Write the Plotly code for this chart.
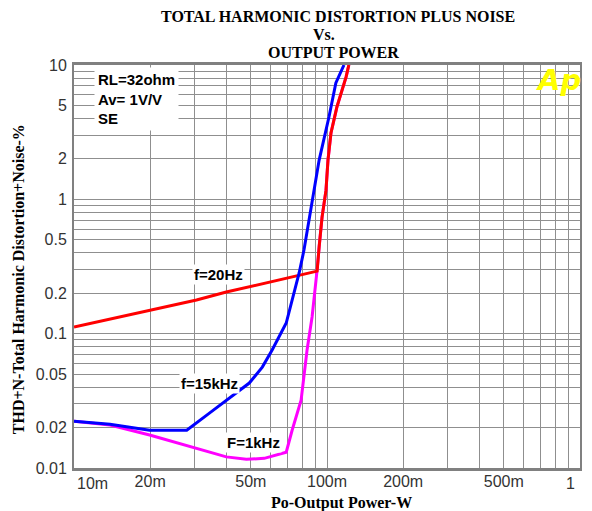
import plotly.graph_objects as go

# ---- data ----
power_20hz = [0.01, 0.0199, 0.0305, 0.040, 0.0525, 0.0665, 0.0776, 0.0914, 0.0931,
              0.0956, 0.0991, 0.1009, 0.1037, 0.1094, 0.119, 0.122]
thd_20hz = [0.112, 0.150, 0.178, 0.204, 0.230, 0.255, 0.273, 0.292, 0.442,
            0.738, 1.17, 1.96, 3.12, 4.86, 8.15, 10]

power_15khz = [0.01, 0.01387, 0.0199, 0.0279, 0.0343, 0.0438, 0.0493, 0.0555, 0.0607,
               0.069, 0.0728, 0.0776, 0.0811, 0.0873, 0.0931, 0.1018, 0.1084, 0.1167]
thd_15khz = [0.0223, 0.0212, 0.0191, 0.0191, 0.0256, 0.0361, 0.0429, 0.0564, 0.0755,
             0.120, 0.178, 0.283, 0.419, 0.988, 1.96, 4.10, 7.35, 10]

power_1khz = [0.01, 0.01387, 0.0199, 0.0294, 0.040, 0.048, 0.0565, 0.069, 0.0728, 0.079,
              0.0811, 0.0834, 0.0873, 0.0905, 0.0914, 0.0931, 0.0956, 0.0991, 0.1009,
              0.1037, 0.1094, 0.119, 0.122]
thd_1khz = [0.0223, 0.0209, 0.0176, 0.0143, 0.0121, 0.0116, 0.0118, 0.0131, 0.0191, 0.032,
            0.0475, 0.0755, 0.133, 0.238, 0.298, 0.442, 0.738, 1.17, 1.96,
            3.12, 4.86, 8.15, 10]

x_grid = [0.01, 0.02, 0.03, 0.04, 0.05, 0.06, 0.07, 0.08, 0.09,
          0.1, 0.2, 0.3, 0.4, 0.5, 0.6, 0.7, 0.8, 0.9, 1]
x_labels = {0.01: "10m", 0.02: "20m", 0.05: "50m", 0.1: "100m",
            0.2: "200m", 0.5: "500m", 1: "1"}
x_edge_labels = [0.01, 1]   # drawn flush with the plot edges, as in the reference
y_grid = [0.01, 0.02, 0.03, 0.04, 0.05, 0.06, 0.07, 0.08, 0.09,
          0.1, 0.2, 0.3, 0.4, 0.5, 0.6, 0.7, 0.8, 0.9,
          1, 2, 3, 4, 5, 6, 7, 8, 9, 10]
y_labels = {0.01: "0.01", 0.02: "0.02", 0.05: "0.05", 0.1: "0.1", 0.2: "0.2",
            0.5: "0.5", 1: "1", 2: "2", 5: "5", 10: "10"}

x_text = ["" if v in x_edge_labels else x_labels.get(v, "") for v in x_grid]
y_text = [y_labels.get(v, "") for v in y_grid]

W, H = 592, 511
L, R, T, B = 74, 10, 65, 43
PW, PH = W - L - R, H - T - B


def px(x):
    return (x - L) / PW


def py(y):
    return (H - B - y) / PH


fig = go.Figure()
fig.add_trace(go.Scatter(x=power_1khz, y=thd_1khz, mode="lines",
                         line=dict(color="#FF00FF", width=3), name="F=1kHz"))
fig.add_trace(go.Scatter(x=power_20hz, y=thd_20hz, mode="lines",
                         line=dict(color="#FF0000", width=3), name="f=20Hz"))
fig.add_trace(go.Scatter(x=power_15khz, y=thd_15khz, mode="lines",
                         line=dict(color="#0000FF", width=3), name="f=15kHz"))

serif_b = dict(family="Liberation Serif", size=16, color="black")
sans_b = dict(family="Liberation Sans", size=15, color="black")
tick_font = dict(family="Liberation Sans", size=16, color="#333333")

ann = []
ann.append(dict(x=px(339), y=py(17), text="<b>TOTAL HARMONIC DISTORTION PLUS NOISE</b>", font=serif_b))
ann.append(dict(x=px(325), y=py(35), text="<b>Vs.</b>", font=serif_b))
ann.append(dict(x=px(335), y=py(52), text="<b>OUTPUT POWER</b>", font=serif_b))
ann.append(dict(x=px(343), y=py(503), text="<b>Po-Output Power-W</b>", font=serif_b))
ann.append(dict(x=px(18), y=py(279), text="<b>THD+N-Total Harmonic Distortion+Noise-%</b>",
                font=serif_b, textangle=-90))
ann.append(dict(x=px(94), y=py(67), xanchor="left", yanchor="top", align="left",
                text="<b>RL=32ohm<br>Av= 1V/V<br>SE</b>", font=sans_b,
                bgcolor="white", borderpad=3))
ann.append(dict(x=px(219), y=py(274), text="<b>f=20Hz</b>", font=sans_b, bgcolor="white", borderpad=1))
ann.append(dict(x=px(210), y=py(383), text="<b>f=15kHz</b>", font=sans_b, bgcolor="white", borderpad=1))
ann.append(dict(x=px(254), y=py(442), text="<b>F=1kHz</b>", font=sans_b, bgcolor="white", borderpad=1))
ann.append(dict(x=px(560), y=py(80), text="Ap",
                font=dict(family="DejaVu Sans", size=29, color="#FFFF00",
                          weight="bold", style="italic")))
for a in ann:
    a.update(xref="paper", yref="paper", showarrow=False)
    a.setdefault("xanchor", "center")
    a.setdefault("yanchor", "middle")

# edge tick labels (left-aligned at the left edge, right-aligned at the right edge)
import math
for v in x_edge_labels:
    ann.append(dict(xref="x", x=math.log10(v), yref="paper", y=py(483),
                    xanchor="left" if v == x_edge_labels[0] else "right",
                    yanchor="middle", text=x_labels[v], font=tick_font,
                    showarrow=False, xshift=1 if v == x_edge_labels[0] else -3))

grid_col = "#8f8f8f"
fig.update_layout(
    width=W, height=H,
    margin=dict(l=L, r=R, t=T, b=B),
    paper_bgcolor="white", plot_bgcolor="white",
    showlegend=False,
    annotations=ann,
    xaxis=dict(type="log", range=[-2, 0], tickvals=x_grid, ticktext=x_text,
               showgrid=True, gridcolor=grid_col, gridwidth=1.3, ticks="",
               showline=True, linecolor="#808080", linewidth=2.5, mirror=True,
               tickfont=tick_font, ticklabelstandoff=-3, zeroline=False),
    yaxis=dict(type="log", range=[-2, 1], tickvals=y_grid, ticktext=y_text,
               showgrid=True, gridcolor=grid_col, gridwidth=1.3, ticks="",
               showline=True, linecolor="#808080", linewidth=2, mirror=True,
               tickfont=tick_font, ticklabelstandoff=2, zeroline=False),
)

fig.write_html("out.html", config={"displayModeBar": False},
               post_script="document.body.style.margin='0px';")
